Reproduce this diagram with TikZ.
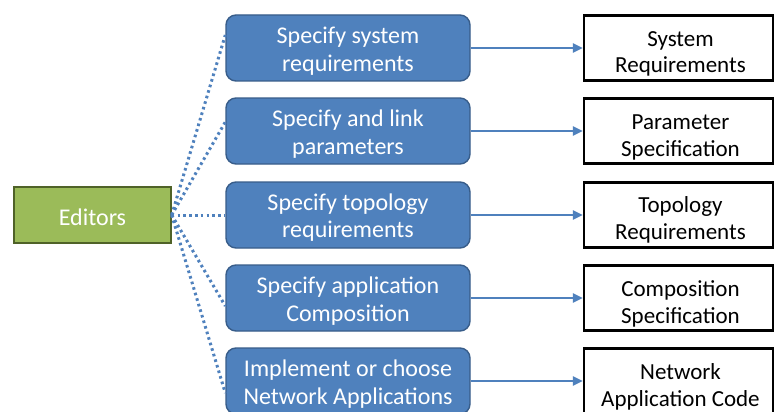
\documentclass[tikz,border=0pt]{standalone}
\usepackage{fontspec}
\setmainfont{Carlito}
\usetikzlibrary{arrows.meta}
\definecolor{taskblue}{HTML}{4F81BD}
\definecolor{taskedge}{HTML}{385D8A}
\definecolor{editgreen}{HTML}{9BBB59}
\definecolor{editedge}{HTML}{4F6228}
\begin{document}
\begin{tikzpicture}[x=1pt,y=-1pt,
  % boxes
  editbox/.style={draw=editedge, fill=editgreen, line width=1.4pt,
    minimum width=157pt, minimum height=56pt, inner sep=0pt},
  taskbox/.style={draw=taskedge, fill=taskblue, line width=1.4pt,
    rounded corners=10pt, minimum width=244pt, minimum height=66pt, inner sep=0pt},
  artbox/.style={draw=black, fill=white, line width=2.4pt,
    minimum width=189pt, minimum height=65pt, inner sep=0pt},
  % text lines, placed on their baselines
  wline/.style={anchor=base, inner sep=0pt, text=white, font=\fontsize{24}{28}\selectfont},
  kline/.style={anchor=base, inner sep=0pt, text=black, font=\fontsize{23}{27}\selectfont},
  % connectors
  feed/.style={draw=taskblue, line width=3pt, dash pattern=on 2.6pt off 3.2pt},
  produce/.style={draw=taskblue, line width=2.4pt, -{Triangle[length=10pt,width=9pt]}}]
\useasboundingbox (0,0) rectangle (774,412);
\clip (0,0) rectangle (774,412);
\fill[white] (0,0) rectangle (774,412);

% editors
\node[editbox] (ed) at (92.5,215) {};
\node[wline] (edL) at (92.5,225) {Editors};

% tasks
\node[taskbox] (t1) at (348,48)  {};
\node[taskbox] (t2) at (348,131) {};
\node[taskbox] (t3) at (348,215) {};
\node[taskbox] (t4) at (348,298) {};
\node[taskbox] (t5) at (348,381) {};
\node[wline] (t1a) at (348,43.3)  {Specify system};
\node[wline] (t1b) at (348,71.0)  {requirements};
\node[wline] (t2a) at (348,126.5) {Specify and link};
\node[wline] (t2b) at (348,154.2) {parameters};
\node[wline] (t3a) at (348,210.2) {Specify topology};
\node[wline] (t3b) at (348,237.9) {requirements};
\node[wline] (t4a) at (348,293.3) {Specify application};
\node[wline] (t4b) at (348,321.0) {Composition};
\node[wline] (t5a) at (348,376.6) {Implement or choose};
\node[wline] (t5b) at (348,404.3) {Network Applications};

% artefacts
\node[artbox] (a1) at (678.5,48)  {};
\node[artbox] (a2) at (678.5,131) {};
\node[artbox] (a3) at (678.5,215) {};
\node[artbox] (a4) at (678.5,298) {};
\node[artbox] (a5) at (678.5,381) {};
\node[kline] (a1a) at (680.5,46.4)  {System};
\node[kline] (a1b) at (680.5,72.6)  {Requirements};
\node[kline] (a2a) at (680.5,129.6) {Parameter};
\node[kline] (a2b) at (680.5,156.3) {Specification};
\node[kline] (a3a) at (680.5,212.6) {Topology};
\node[kline] (a3b) at (680.5,239.3) {Requirements};
\node[kline] (a4a) at (680.5,296.4) {Composition};
\node[kline] (a4b) at (680.5,323.1) {Specification};
\node[kline] (a5a) at (680.5,379.4) {Network};
\node[kline] (a5b) at (680.5,406.1) {Application Code};

% dotted links from the editors to each task
\draw[feed] (ed.east) -- ([yshift=13pt]t1.west);
\draw[feed] (ed.east) -- ([yshift=9pt]t2.west);
\draw[feed] (ed.east) -- (t3.west);
\draw[feed] (ed.east) -- ([yshift=-8pt]t4.west);
\draw[feed] (ed.east) -- ([yshift=-12pt]t5.west);

% each task produces an artefact
\foreach \i in {1,...,5}
  \draw[produce] (t\i.east) -- (a\i.west);
\end{tikzpicture}
\end{document}
